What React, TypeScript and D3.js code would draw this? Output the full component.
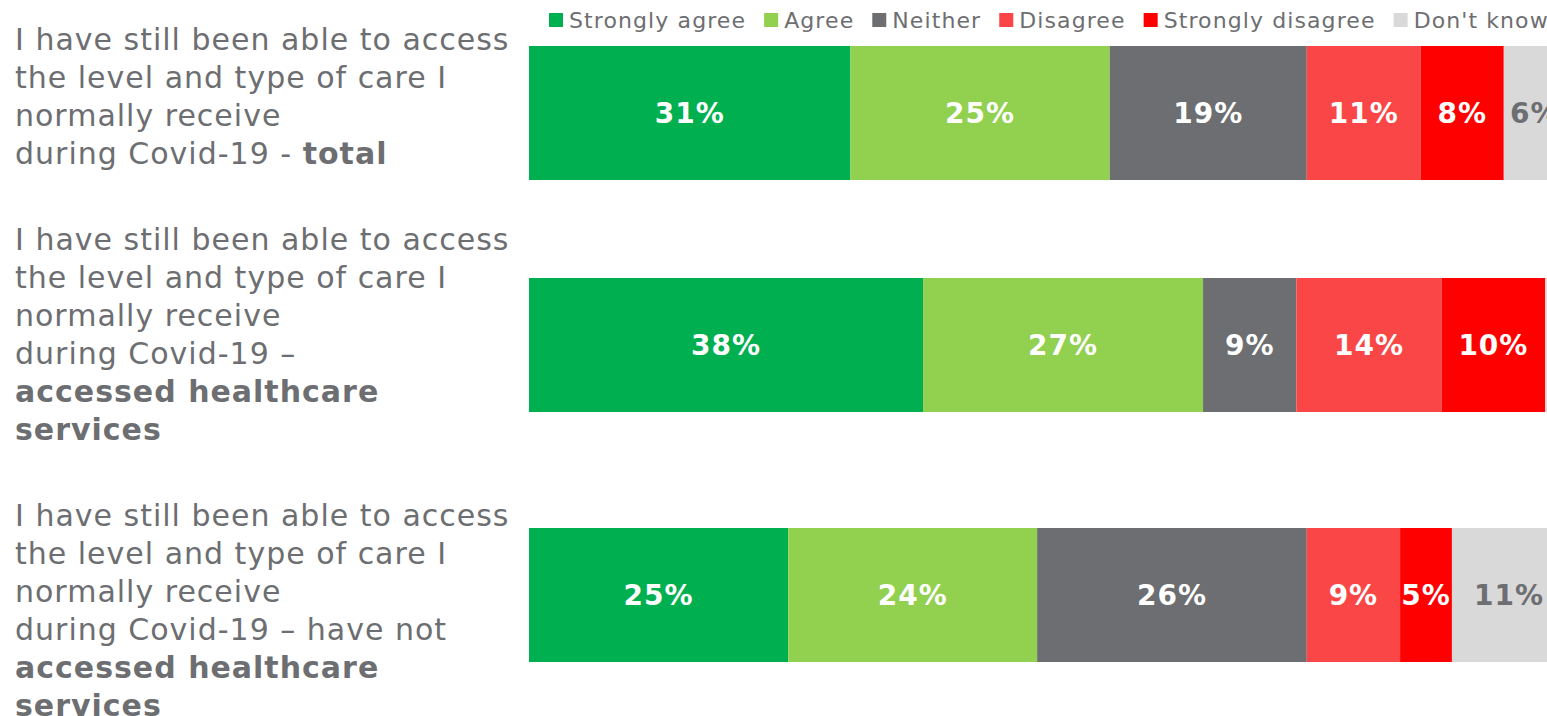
import React, { useEffect, useRef } from "react";
import * as d3 from "d3";

const categories = ["Strongly agree", "Agree", "Neither", "Disagree", "Strongly disagree", "Don't know"];
const colors = ["#00B050", "#92D050", "#6D6E71", "#FA4646", "#FF0000", "#D9D9D9"];
const labelColors = ["#FFFFFF", "#FFFFFF", "#FFFFFF", "#FFFFFF", "#FFFFFF", "#6D6E71"];

const rows = ["total", "accessed", "notAccessed"];
const totalValues = [31, 25, 19, 11, 8, 6];
const accessedValues = [38, 27, 9, 14, 10, 2];
const notAccessedValues = [25, 24, 26, 9, 5, 11];
const seriesValues = [totalValues, accessedValues, notAccessedValues];

type Seg = { t: string; b?: boolean };
const rowLabels: Seg[][][] = [
  [
    [{ t: "I have still been able to access" }],
    [{ t: "the level and type of care I" }],
    [{ t: "normally receive" }],
    [{ t: "during Covid-19 - " }, { t: "total", b: true }],
  ],
  [
    [{ t: "I have still been able to access" }],
    [{ t: "the level and type of care I" }],
    [{ t: "normally receive" }],
    [{ t: "during Covid-19 \u2013" }],
    [{ t: "accessed healthcare", b: true }],
    [{ t: "services", b: true }],
  ],
  [
    [{ t: "I have still been able to access" }],
    [{ t: "the level and type of care I" }],
    [{ t: "normally receive" }],
    [{ t: "during Covid-19 \u2013 have not" }],
    [{ t: "accessed healthcare", b: true }],
    [{ t: "services", b: true }],
  ],
];

const W = 1547;
const H = 716;
const FONT = "'DejaVu Sans', Verdana, sans-serif";
const GRAY = "#6D6E71";

export default function App() {
  const ref = useRef<SVGSVGElement | null>(null);

  useEffect(() => {
    const svg = d3.select(ref.current);
    svg.selectAll("*").remove();

    const x = d3.scaleLinear().domain([0, 100]).range([529, 1566]);
    const yTop = d3.scaleOrdinal<string, number>().domain(rows).range([46, 278, 528]);
    const textTop = d3.scaleOrdinal<string, number>().domain(rows).range([50, 250, 526]);
    const barH = 134;
    const lineH = 38;

    rows.forEach((r, ri) => {
      const vals = seriesValues[ri];
      let cum = 0;
      const g = svg.append("g");
      vals.forEach((v, ci) => {
        const x0 = x(cum);
        const x1 = x(cum + v);
        cum += v;
        g.append("rect")
          .attr("x", x0)
          .attr("y", yTop(r))
          .attr("width", x1 - x0)
          .attr("height", barH)
          .attr("fill", colors[ci]);
        if (v >= 5) {
          g.append("text")
            .attr("x", (x0 + x1) / 2)
            .attr("y", yTop(r) + barH / 2 + 10)
            .attr("text-anchor", "middle")
            .attr("font-family", FONT)
            .attr("font-weight", "bold")
            .attr("font-size", 28)
            .attr("letter-spacing", 1)
            .attr("fill", labelColors[ci])
            .text(`${v}%`);
        }
      });

      const lines = rowLabels[ri];
      lines.forEach((line, li) => {
        const t = svg.append("text")
          .attr("x", 15)
          .attr("y", textTop(r) + li * lineH)
          .attr("font-family", FONT)
          .attr("font-size", 30)
          .attr("letter-spacing", 1)
          .attr("fill", GRAY);
        line.forEach((s) => {
          t.append("tspan")
            .attr("font-weight", s.b ? "bold" : "normal")
            .text(s.t);
        });
      });
    });

    const lg = svg.append("g");
    let lx = 549;
    categories.forEach((c, i) => {
      lg.append("rect")
        .attr("x", lx)
        .attr("y", 13)
        .attr("width", 14)
        .attr("height", 14)
        .attr("fill", colors[i]);
      const t = lg.append("text")
        .attr("x", lx + 20)
        .attr("y", 28)
        .attr("font-family", FONT)
        .attr("font-size", 22)
        .attr("letter-spacing", 1.1)
        .attr("fill", GRAY)
        .text(c);
      const w = (t.node() as SVGTextElement).getComputedTextLength();
      lx = lx + 20 + w + 18;
    });
  }, []);

  return (
    <svg
      ref={ref}
      width={W}
      height={H}
      style={{ position: "absolute", left: 0, top: 0, overflow: "hidden", background: "#fff" }}
    />
  );
}
